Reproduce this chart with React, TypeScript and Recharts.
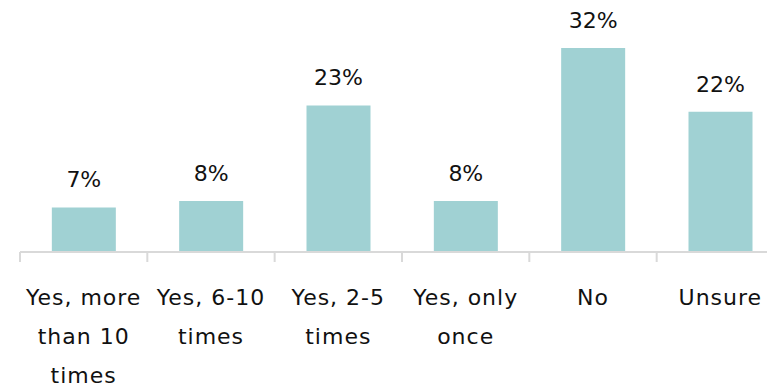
import React from "react";
import { BarChart, Bar, XAxis, YAxis, LabelList } from "recharts";

const categories = [
  "Yes, more than 10 times",
  "Yes, 6-10 times",
  "Yes, 2-5 times",
  "Yes, only once",
  "No",
  "Unsure",
];
const tickLines = [
  ["Yes, more", "than 10", "times"],
  ["Yes, 6-10", "times"],
  ["Yes, 2-5", "times"],
  ["Yes, only", "once"],
  ["No"],
  ["Unsure"],
];
const percents = [7, 8, 23, 8, 32, 22];

const chartData = categories.map((name, i) => ({
  name,
  value: percents[i],
  lines: tickLines[i],
}));

const FONT = "'DejaVu Sans', sans-serif";
const CHART_W = 800;
const MARGIN_L = 20;
const MARGIN_R = 16;
const BAND = (CHART_W - MARGIN_L - MARGIN_R) / categories.length;

const CategoryTick = (props: any) => {
  const { x, y, index } = props;
  const lines: string[] = chartData[index]?.lines ?? [];
  return (
    <g>
      <line x1={x - BAND / 2} x2={x - BAND / 2} y1={y - 10} y2={y} stroke="#d9d9d9" strokeWidth={2} />
      {lines.map((t, i) => (
        <text
          key={i}
          x={x}
          y={y + 43 + i * 39}
          textAnchor="middle"
          fontFamily={FONT}
          fontSize={22}
          letterSpacing={1}
          fill="#111"
        >
          {t}
        </text>
      ))}
    </g>
  );
};

export default function App() {
  return (
    <div style={{ position: "fixed", left: 0, top: 0, width: 767, height: 387, overflow: "hidden", background: "#fff" }}>
      <BarChart
        width={CHART_W}
        height={387}
        data={chartData}
        margin={{ top: 48, right: MARGIN_R, bottom: 0, left: MARGIN_L }}
        barCategoryGap="25%"
      >
        <XAxis
          dataKey="name"
          height={135}
          axisLine={{ stroke: "#d9d9d9", strokeWidth: 2 }}
          tickLine={false}
          tickSize={10}
          tickMargin={0}
          interval={0}
          tick={<CategoryTick />}
        />
        <YAxis hide domain={[0, 32]} />
        <Bar dataKey="value" fill="#a0d1d3" isAnimationActive={false}>
          <LabelList
            dataKey="value"
            position="top"
            offset={20}
            formatter={(v: any) => `${v}%`}
            style={{ fontFamily: FONT, fontSize: 22, fill: "#111" }}
          />
        </Bar>
      </BarChart>
    </div>
  );
}
